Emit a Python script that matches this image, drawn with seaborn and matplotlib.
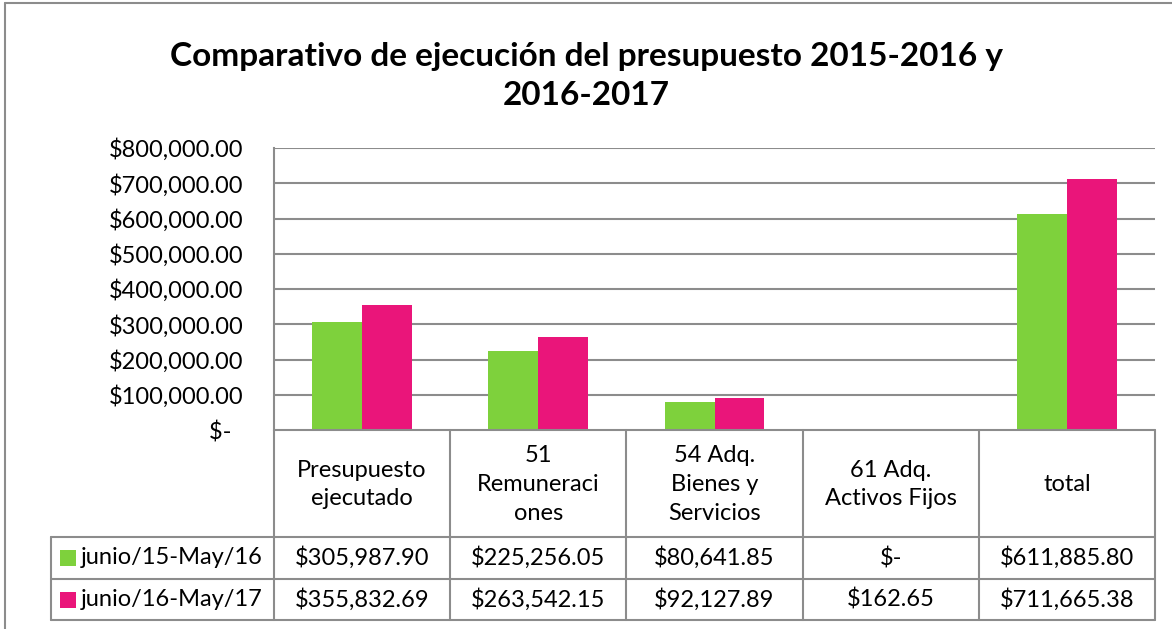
import matplotlib
matplotlib.use("Agg")
import matplotlib.pyplot as plt
import matplotlib.transforms as mtransforms
from matplotlib.lines import Line2D
from matplotlib.patches import Rectangle
import pandas as pd
import seaborn as sns

# data
categories = ["Presupuesto\nejecutado", "51\nRemuneraci\nones",
              "54 Adq.\nBienes y\nServicios", "61 Adq.\nActivos Fijos", "total"]
series_names = ["junio/15-May/16", "junio/16-May/17"]
vals_1516 = [305987.90, 225256.05, 80641.85, 0.0, 611885.80]
vals_1617 = [355832.69, 263542.15, 92127.89, 162.65, 711665.38]
colors = ["#7ED13C", "#EA157A"]
yticks = [0, 100000, 200000, 300000, 400000, 500000, 600000, 700000, 800000]

FONT = ["Lato", "DejaVu Sans"]
GRID = "#8C8C8C"
FS = 17

W, H = 1172, 629


def money(v):
    return "$-" if v == 0 else f"${v:,.2f}"


df = pd.DataFrame({
    "cat": categories * 2,
    "serie": [series_names[0]] * 5 + [series_names[1]] * 5,
    "valor": vals_1516 + vals_1617,
})

sns.set_theme(style="white")
plt.rcParams["font.family"] = FONT
plt.rcParams["text.color"] = "black"

fig = plt.figure(figsize=(W / 100, H / 100), dpi=100)

# plot area in pixels
x0, x1 = 274, 1155
y_top, y_bot = 148, 430
ax = fig.add_axes([x0 / W, 1 - y_bot / H, (x1 - x0) / W, (y_bot - y_top) / H])

sns.barplot(data=df, x="cat", y="valor", hue="serie", palette=colors, saturation=1,
            width=0.567, gap=0, linewidth=0, ax=ax, legend=False)

ax.set_ylim(0, 800000)
ax.set_xlim(-0.5, len(categories) - 0.5)
ax.set_yticks(yticks)
ax.set_yticklabels([money(t) + ("  " if t == 0 else "") for t in yticks],
                   fontsize=FS, color="black")
ax.tick_params(axis="y", length=0, pad=22)
ax.set_xticks([])
ax.set_xlabel("")
ax.set_ylabel("")
for t in yticks[1:]:
    ax.axhline(t, color=GRID, lw=1.5, zorder=0)
for s in ["top", "right", "bottom"]:
    ax.spines[s].set_visible(False)
ax.spines["left"].set_color(GRID)
ax.spines["left"].set_linewidth(1.5)


# table under the plot, x in data units, y in axes fraction
def yax(py):
    return (y_bot - py) / (y_bot - y_top)


trans = mtransforms.blended_transform_factory(ax.transData, ax.transAxes)
ftrans = mtransforms.blended_transform_factory(fig.transFigure, ax.transAxes)
n = len(categories)
h_top, r1, r2, r3 = 430, 537, 579, 620
lab_left = 51 / W

lk = dict(color=GRID, lw=1.5, clip_on=False)
ax.add_line(Line2D([-0.5, n - 0.5], [yax(h_top)] * 2, transform=trans, **lk))
for py in [r1, r2, r3]:
    ax.add_line(Line2D([lab_left, x1 / W], [yax(py)] * 2, transform=ftrans, **lk))
for k in range(n + 1):
    ax.add_line(Line2D([k - 0.5] * 2, [yax(h_top), yax(r3)], transform=trans, **lk))
ax.add_line(Line2D([lab_left] * 2, [yax(r1), yax(r3)], transform=ftrans, **lk))

for i, c in enumerate(categories):
    ax.text(i, yax((h_top + r1) / 2 + 1), c, transform=trans, ha="center", va="center",
            fontsize=FS, linespacing=1.45)

for row, (vals, name, col) in enumerate(zip([vals_1516, vals_1617], series_names, colors)):
    yc = yax([(r1 + r2) / 2, (r2 + r3) / 2][row])
    for i, v in enumerate(vals):
        ax.text(i, yc, money(v), transform=trans, ha="center", va="center", fontsize=FS)
    ax.add_patch(Rectangle((60 / W, yc - 8 / (y_bot - y_top)), 16 / W, 16 / (y_bot - y_top),
                           transform=ftrans, facecolor=col, edgecolor="none", clip_on=False))
    ax.text(81 / W, yc, name, transform=ftrans, ha="left", va="center", fontsize=FS)

# title
fig.text(586 / W, 1 - 76 / H, "Comparativo de ejecución del presupuesto 2015-2016 y\n2016-2017",
         ha="center", va="center", fontsize=24, fontweight="bold", linespacing=1.4,
         color="black")

# outer chart frame
fig.add_artist(Line2D([5 / W, 5 / W], [0, 1 - 3 / H], transform=fig.transFigure, color=GRID, lw=1.5))
fig.add_artist(Line2D([5 / W, 1], [1 - 3 / H, 1 - 3 / H], transform=fig.transFigure, color=GRID, lw=1.5))

fig.savefig("out.png", dpi=100, facecolor="white")
